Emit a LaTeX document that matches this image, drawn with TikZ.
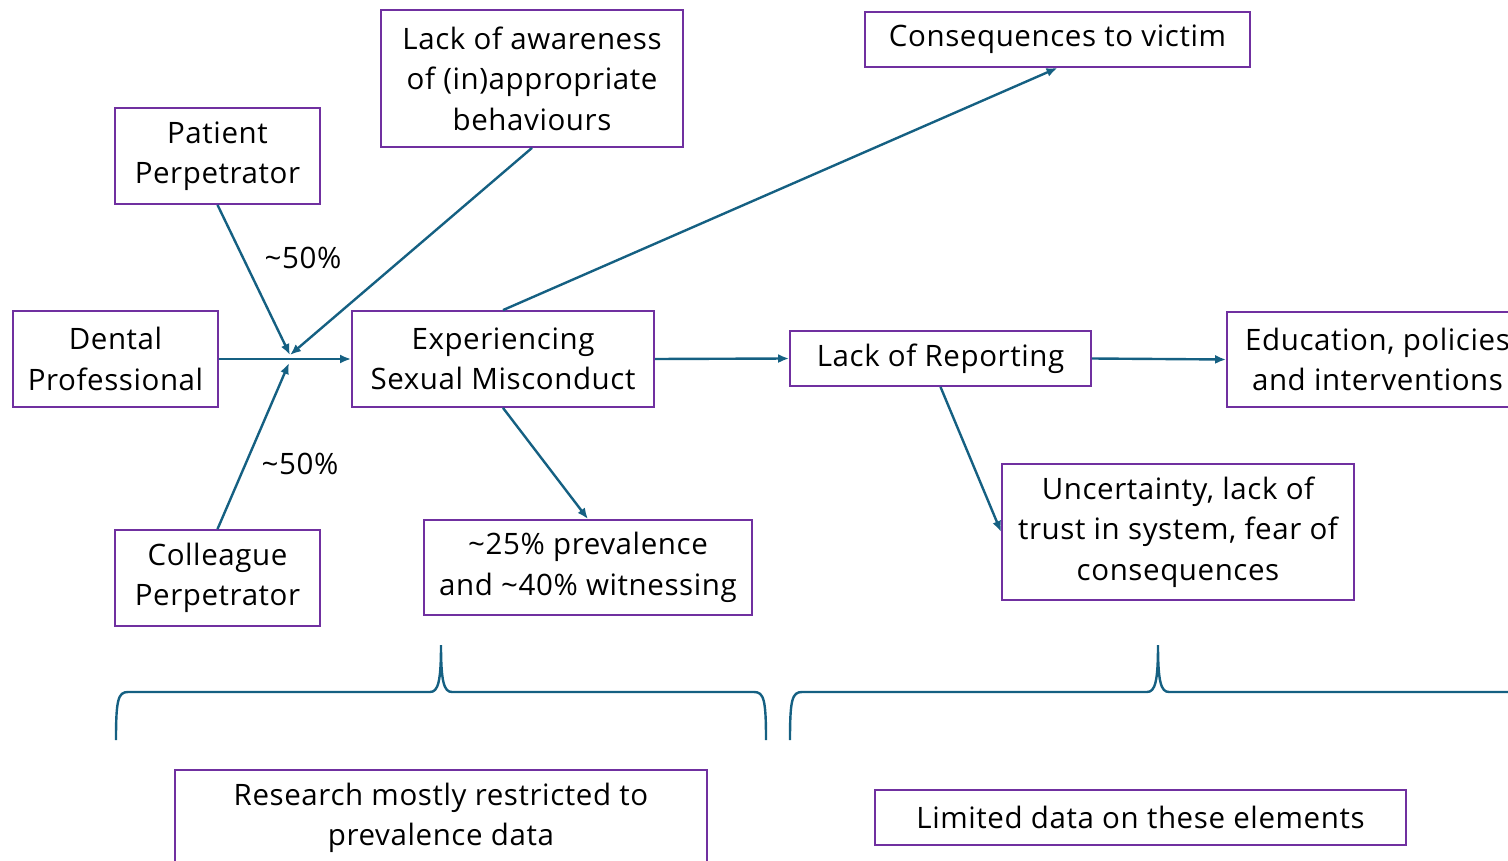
\documentclass[tikz,border=0pt]{standalone}
\usepackage{fontspec}
\setmainfont{Open Sans}[LetterSpace=2]
\usetikzlibrary{positioning, arrows.meta, calc}
\definecolor{boxpurple}{RGB}{112,48,160}
\definecolor{linkblue}{RGB}{21,96,130}

\begin{document}
\begin{tikzpicture}[x=1pt, y=-1pt,
    box/.style={draw=boxpurple, line width=1.8pt, align=center, inner sep=0pt, font=\fontsize{29.5}{40.5}\selectfont},
    link/.style={-{Latex[length=11pt, width=9pt]}, line width=2.4pt, color=linkblue},
    bracket/.style={line width=2.4pt, color=linkblue},
    pct/.style={font=\fontsize{29.5}{40.5}\selectfont}]
    \clip (0,0) rectangle (1508,861);
    % top row and causes
    \node[box, minimum width=205pt, minimum height=96pt] (patient) at (217.5,156) {Patient\\Perpetrator};
    \node[box, minimum width=302pt, minimum height=137pt] (aware) at (532,78.5) {Lack of awareness\\of (in)appropriate\\behaviours};
    \node[box, minimum width=385pt, minimum height=55pt] (victim) at (1057.5,39.5) {Consequences to victim};
    \node[box, minimum width=205pt, minimum height=96pt] (dental) at (115.5,359) {Dental\\Professional};
    \node[box, minimum width=205pt, minimum height=96pt] (colleague) at (217.5,578) {Colleague\\Perpetrator};
    % main chain
    \node[box, minimum width=302pt, minimum height=96pt] (misconduct) at (503,359) {Experiencing\\Sexual Misconduct};
    \node[box, minimum width=301pt, minimum height=55pt] (reporting) at (940.5,358.5) {Lack of Reporting};
    \node[box, minimum width=301pt, minimum height=95pt] (education) at (1377.5,359.5) {Education, policies\\and interventions};
    \node[box, minimum width=328pt, minimum height=95pt] (prevalence) at (588,567.5) {\textasciitilde25\% prevalence\\and \textasciitilde40\% witnessing};
    \node[box, minimum width=352pt, minimum height=136pt] (uncertain) at (1178,532) {Uncertainty, lack of\\trust in system, fear of\\consequences};
    % bottom notes
    \node[box, minimum width=532pt, minimum height=96pt] (research) at (441,818) {Research mostly restricted to\\prevalence data};
    \node[box, minimum width=531pt, minimum height=55pt] (limited) at (1140.5,817.5) {Limited data on these elements};
    \node[pct] (pctpatient) at (303,258) {\textasciitilde50\%};
    \node[pct] (pctcolleague) at (300,464) {\textasciitilde50\%};

    \coordinate (jointop) at (290,355);
    \coordinate (joinbot) at (289,363);
    \draw[link] (patient.south) -- (jointop);
    \draw[link] (aware.south) -- (jointop);
    \draw[link] (colleague.north) -- (joinbot);
    \draw[link] (dental.east) -- (misconduct.west);
    \draw[link] (misconduct.north) -- (victim.south);
    \draw[link] (misconduct.south) -- (prevalence.north);
    \draw[link] (misconduct.east) -- (reporting.west);
    \draw[link] (reporting.east) -- (education.west);
    \draw[link] (reporting.south) -- (uncertain.west);

    % braces
    \draw[bracket] (116,740) .. controls (116,700) and (118,692) .. (128,692) -- (430,692)
        .. controls (438,692) and (441,682) .. (441,645) .. controls (441,682) and (444,692) .. (452,692)
        -- (754,692) .. controls (764,692) and (766,700) .. (766,740);
    \draw[bracket] (790,740) .. controls (790,700) and (792,692) .. (802,692) -- (1147,692)
        .. controls (1155,692) and (1158,682) .. (1158,645) .. controls (1158,682) and (1161,692) .. (1169,692)
        -- (1514,692) .. controls (1524,692) and (1526,700) .. (1526,740);
\end{tikzpicture}
\end{document}
